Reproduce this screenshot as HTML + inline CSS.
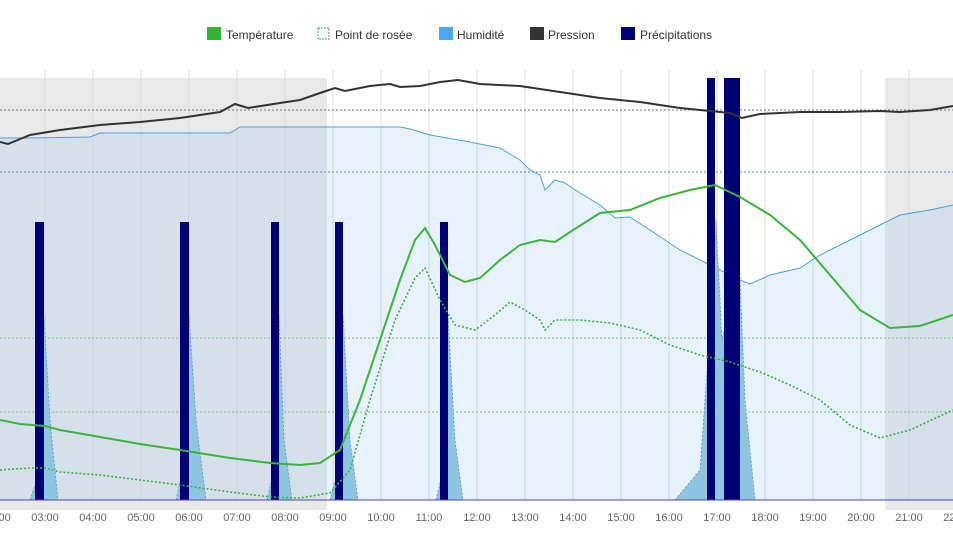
<!DOCTYPE html><html><head><style>body{margin:0;background:#fff}svg{display:block;font-family:"Liberation Sans",sans-serif}</style></head><body>
<svg width="953" height="536" viewBox="0 0 953 536">
<rect x="0" y="78" width="327" height="432" fill="#e9e9e9"/>
<rect x="885" y="78" width="68" height="432" fill="#e9e9e9"/>
<g stroke="#dcdcdc" stroke-width="1">
<line x1="45" y1="70" x2="45" y2="500"/><line x1="93" y1="70" x2="93" y2="500"/><line x1="141" y1="70" x2="141" y2="500"/><line x1="189" y1="70" x2="189" y2="500"/><line x1="237" y1="70" x2="237" y2="500"/><line x1="285" y1="70" x2="285" y2="500"/><line x1="333" y1="70" x2="333" y2="500"/><line x1="381" y1="70" x2="381" y2="500"/><line x1="429" y1="70" x2="429" y2="500"/><line x1="477" y1="70" x2="477" y2="500"/><line x1="525" y1="70" x2="525" y2="500"/><line x1="573" y1="70" x2="573" y2="500"/><line x1="621" y1="70" x2="621" y2="500"/><line x1="669" y1="70" x2="669" y2="500"/><line x1="717" y1="70" x2="717" y2="500"/><line x1="765" y1="70" x2="765" y2="500"/><line x1="813" y1="70" x2="813" y2="500"/><line x1="861" y1="70" x2="861" y2="500"/><line x1="909" y1="70" x2="909" y2="500"/>
</g>
<path d="M0,138 L30,138 L90,137 L100,133 L230,133 L240,127 L400,127 L410,129 L430,135 L470,142 L500,148 L520,160 L530,170 L540,175 L545,190 L555,180 L565,183 L580,193 L600,205 L615,218 L630,217 L650,230 L680,250 L720,270 L740,280 L750,284 L770,275 L800,268 L820,255 L850,240 L880,225 L900,215 L930,210 L953,205 L953,500 L0,500 Z" fill="rgba(124,181,236,0.18)" stroke="none"/>
<path d="M0,138 L30,138 L90,137 L100,133 L230,133 L240,127 L400,127 L410,129 L430,135 L470,142 L500,148 L520,160 L530,170 L540,175 L545,190 L555,180 L565,183 L580,193 L600,205 L615,218 L630,217 L650,230 L680,250 L720,270 L740,280 L750,284 L770,275 L800,268 L820,255 L850,240 L880,225 L900,215 L930,210 L953,205" fill="none" stroke="#4aa3d6" stroke-width="1"/>
<g stroke-dasharray="2,2" stroke-width="1">
<line x1="0" y1="110" x2="953" y2="110" stroke="#777"/>
<line x1="0" y1="172" x2="953" y2="172" stroke="#5a8fc8"/>
<line x1="0" y1="338" x2="953" y2="338" stroke="#7cc07c"/>
<line x1="0" y1="412" x2="953" y2="412" stroke="#7cc07c"/>
</g>
<g fill="#8ec5e2" stroke="#6a8fb8" stroke-dasharray="2,2" stroke-width="0.8">
<path d="M30,500 L40,470 L44,315 L50,420 L58,500Z"/>
<path d="M176,500 L185,460 L189,315 L196,420 L206,500Z"/>
<path d="M267,500 L274,470 L279,315 L284,440 L292,500Z"/>
<path d="M330,500 L338,470 L343,315 L350,440 L358,500Z"/>
<path d="M436,500 L443,470 L448,315 L455,440 L463,500Z"/>
<path d="M675,500 L700,470 L710,330 L716,220 L722,340 L730,300 L738,230 L745,400 L755,500Z"/>
</g>
<g fill="#000075">
<rect x="35" y="222" width="9" height="278"/>
<rect x="180" y="222" width="9" height="278"/>
<rect x="271" y="222" width="8" height="278"/>
<rect x="335" y="222" width="8" height="278"/>
<rect x="440" y="222" width="8" height="278"/>
<rect x="707" y="78" width="8" height="422"/>
<rect x="724" y="78" width="16" height="422"/>
</g>
<line x1="0" y1="500" x2="953" y2="500" stroke="#4a4aa0" stroke-width="1"/>
<path d="M0,142 L8,144 L30,135 L60,130 L100,125 L140,122 L180,118 L220,112 L235,104 L248,108 L280,103 L300,100 L320,93 L335,88 L345,91 L370,86 L390,84 L400,87 L420,86 L440,82 L458,80 L480,84 L520,86 L560,92 L600,98 L640,102 L680,108 L720,112 L730,113 L742,118 L760,114 L800,112 L840,112 L880,111 L900,112 L930,110 L953,106" fill="none" stroke="#333" stroke-width="2"/>
<path d="M0,420 L20,424 L45,426 L60,430 L100,437 L140,444 L180,450 L230,458 L270,463 L300,465 L320,463 L340,450 L360,400 L380,340 L400,280 L415,240 L425,228 L435,245 L450,275 L465,282 L480,278 L500,260 L520,245 L540,240 L555,242 L570,232 L600,213 L630,210 L660,198 L690,190 L715,185 L740,197 L770,215 L800,240 L830,275 L860,310 L890,328 L920,326 L953,315" fill="none" stroke="#3cb43c" stroke-width="2"/>
<path d="M0,470 L30,468 L45,468 L60,472 L100,475 L140,480 L180,485 L230,492 L270,497 L300,498 L330,493 L350,470 L370,400 L395,320 L415,278 L425,268 L440,300 L455,325 L475,330 L495,315 L510,302 L525,310 L540,320 L545,330 L555,320 L580,320 L610,323 L640,330 L670,345 L700,355 L730,362 L760,372 L790,385 L820,400 L850,425 L880,438 L910,430 L953,410" fill="none" stroke="#3cb43c" stroke-width="1.6" stroke-dasharray="2,2"/>
<g font-size="11" fill="#666" text-anchor="middle">
<text x="-3" y="521">00:00</text><text x="45" y="521">03:00</text><text x="93" y="521">04:00</text><text x="141" y="521">05:00</text><text x="189" y="521">06:00</text><text x="237" y="521">07:00</text><text x="285" y="521">08:00</text><text x="333" y="521">09:00</text><text x="381" y="521">10:00</text><text x="429" y="521">11:00</text><text x="477" y="521">12:00</text><text x="525" y="521">13:00</text><text x="573" y="521">14:00</text><text x="621" y="521">15:00</text><text x="669" y="521">16:00</text><text x="717" y="521">17:00</text><text x="765" y="521">18:00</text><text x="813" y="521">19:00</text><text x="861" y="521">20:00</text><text x="909" y="521">21:00</text><text x="957" y="521">22:00</text>
</g>
<g font-size="12" fill="#333">
<rect x="207" y="27" width="14" height="13" fill="#33b233"/><text x="226" y="39">Température</text>
<rect x="318" y="28" width="11" height="11" fill="none" stroke="#33b233" stroke-dasharray="2,1"/><text x="335" y="39">Point de rosée</text>
<rect x="439" y="27" width="14" height="13" fill="#4da6f0"/><text x="457" y="39">Humidité</text>
<rect x="530" y="27" width="14" height="13" fill="#333"/><text x="548" y="39">Pression</text>
<rect x="621" y="27" width="14" height="13" fill="#000075"/><text x="640" y="39">Précipitations</text>
</g>
</svg>
</body></html>
